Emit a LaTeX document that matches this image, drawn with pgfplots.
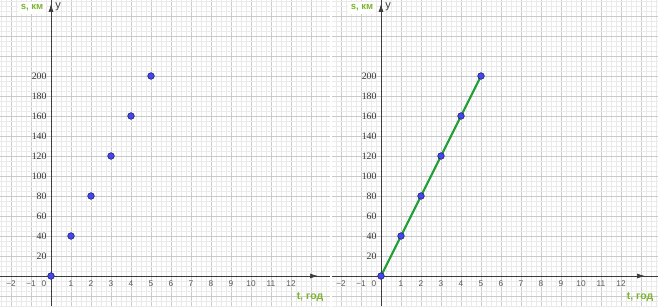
\documentclass[border=0pt]{standalone}
\usepackage{fontspec}
\setmainfont{Liberation Serif}
\newfontfamily\sansf{Liberation Sans}
\usepackage{pgfplots}
\pgfplotsset{compat=1.18}
\usetikzlibrary{arrows.meta}
\definecolor{gmaj}{RGB}{202,202,202}
\definecolor{gmin}{RGB}{234,234,234}
\definecolor{axc}{RGB}{60,60,60}
\definecolor{lblgreen}{RGB}{124,179,46}
\definecolor{linegreen}{RGB}{34,160,56}
\definecolor{ptfill}{RGB}{70,70,240}
\definecolor{ptdraw}{RGB}{30,30,110}
\pgfplotsset{
  geo/.style={
    scale only axis,
    x=20pt, y=1pt,
    ymin=-30, ymax=276,
    axis lines=middle,
    axis line style={draw=none},
    xtick={-3,...,14},
    xticklabels={{},{−2},{−1},{},1,2,3,4,5,6,7,8,9,10,11,12,{},{}},
    ytick={-40,-20,...,280},
    yticklabels={{},{},{},20,40,60,80,100,120,140,160,180,200,{},{},{},{}},
    minor tick num=3,
    grid=both,
    major grid style={gmaj, line width=0.6pt},
    minor grid style={gmin, line width=0.5pt},
    major tick length=0pt, minor tick length=0pt,
    xticklabel style={font=\sansf\fontsize{8.3}{9}\selectfont, text=gray!70!black, yshift=-1pt},
    yticklabel style={font=\fontsize{9.8}{10}\selectfont, text=black!80, xshift=-1pt},
    /pgf/number format/assume math mode=true,
    clip=false,
  }
}
\begin{document}
\begin{tikzpicture}
% left panel
\begin{axis}[geo, xmin=-2.55, xmax=13.95, at={(0pt,0pt)}, anchor=south west]
\draw[axc, line width=0.7pt] (axis cs:-2.55,0) -- (axis cs:13.95,0);
\draw[axc, line width=0.7pt, -{Latex[length=8pt,width=5pt]}] (axis cs:-2.55,0) -- (axis cs:13.35,0);
\draw[axc, line width=0.7pt] (axis cs:0,-30) -- (axis cs:0,276);
\draw[axc, line width=0.7pt, -{Latex[length=8pt,width=5pt]}] (axis cs:0,-30) -- (axis cs:0,272);
\node[font=\sansf\fontsize{8.3}{9}\selectfont, text=gray!70!black] at (axis cs:-0.35,-8) {0};
\node[fill=white, inner sep=2.5pt, font=\sansf\bfseries\fontsize{9.5}{10}\selectfont, text=lblgreen] at (axis cs:-0.95,268) {s, км};
\node[font=\sansf\fontsize{11}{11}\selectfont, text=axc] at (axis cs:0.36,269) {y};
\node[font=\sansf\bfseries\fontsize{10.5}{11}\selectfont, text=lblgreen] at (axis cs:12.95,-21) {t, год};
\addplot[only marks, mark=*, mark size=3.3pt, mark options={fill=ptfill, draw=ptdraw, line width=0.6pt}]
  coordinates {(0,0) (1,40) (2,80) (3,120) (4,160) (5,200)};
\end{axis}
% right panel
\begin{axis}[geo, xmin=-2.45, xmax=13.85, at={(332pt,0pt)}, anchor=south west]
\draw[axc, line width=0.7pt] (axis cs:-2.45,0) -- (axis cs:13.85,0);
\draw[axc, line width=0.7pt, -{Latex[length=8pt,width=5pt]}] (axis cs:-2.45,0) -- (axis cs:13.2,0);
\draw[axc, line width=0.7pt] (axis cs:0,-30) -- (axis cs:0,276);
\draw[axc, line width=0.7pt, -{Latex[length=8pt,width=5pt]}] (axis cs:0,-30) -- (axis cs:0,272);
\node[font=\sansf\fontsize{8.3}{9}\selectfont, text=gray!70!black] at (axis cs:-0.35,-8) {0};
\node[fill=white, inner sep=2.5pt, font=\sansf\bfseries\fontsize{9.5}{10}\selectfont, text=lblgreen] at (axis cs:-0.95,268) {s, км};
\node[font=\sansf\fontsize{11}{11}\selectfont, text=axc] at (axis cs:0.36,269) {y};
\node[font=\sansf\bfseries\fontsize{10.5}{11}\selectfont, text=lblgreen] at (axis cs:12.95,-21) {t, год};
\addplot[linegreen, line width=2.2pt] coordinates {(0,0) (5,200)};
\addplot[only marks, mark=*, mark size=3.3pt, mark options={fill=ptfill, draw=ptdraw, line width=0.6pt}]
  coordinates {(0,0) (1,40) (2,80) (3,120) (4,160) (5,200)};
\end{axis}
\pgfresetboundingbox
\path (0pt,0pt) rectangle (658pt,306pt);
\end{tikzpicture}
\end{document}
